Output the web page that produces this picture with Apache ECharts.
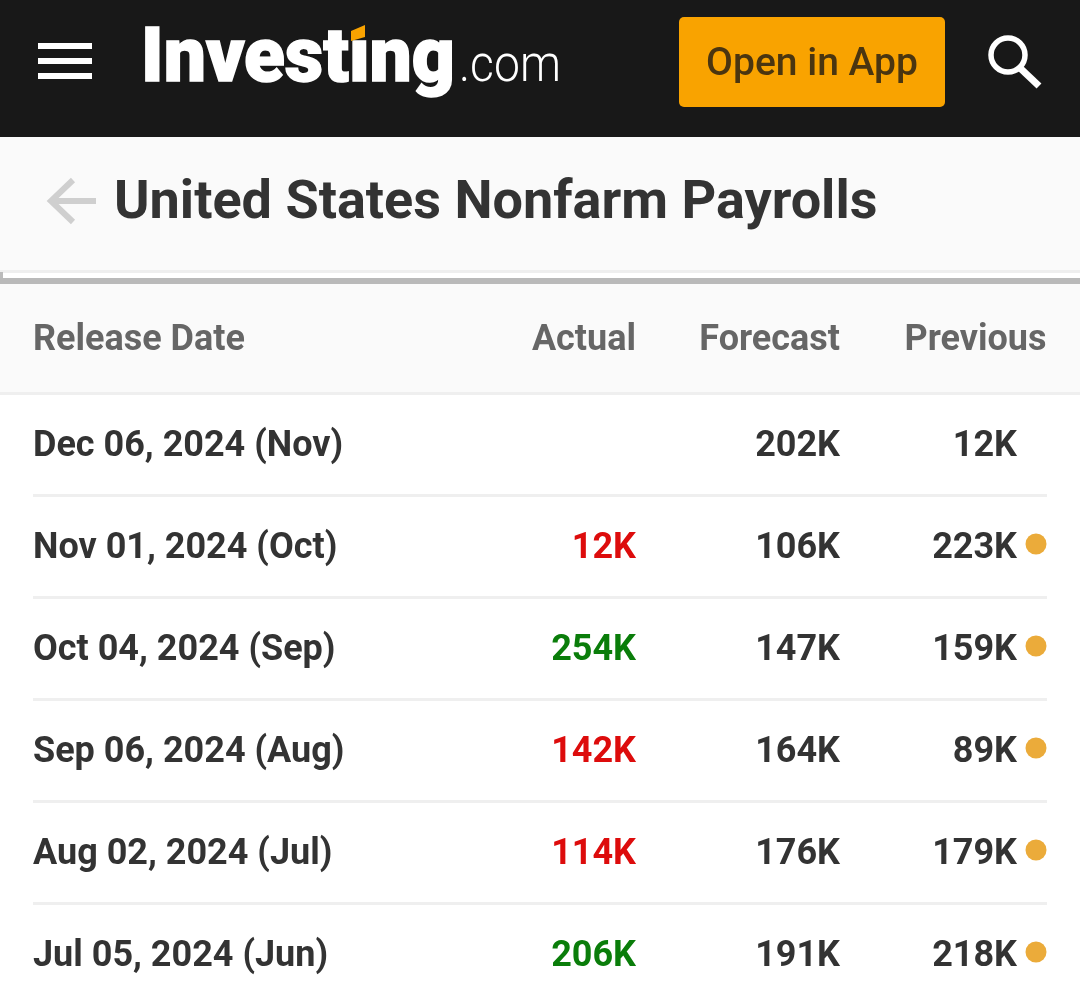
<!DOCTYPE html>
<html>
<head>
<meta charset="utf-8">
<style>
  html, body { margin: 0; padding: 0; background: #fff; height: 1003px; overflow: hidden; }
  #chart { width: 1080px; height: 1020px; }
</style>
<script src="https://cdn.jsdelivr.net/npm/echarts@6/dist/echarts.min.js"></script>
</head>
<body>
<div id="chart"></div>
<script>
const title = 'United States Nonfarm Payrolls';
const columns = ['Release Date', 'Actual', 'Forecast', 'Previous'];
const releases = ['Dec 06, 2024 (Nov)', 'Nov 01, 2024 (Oct)', 'Oct 04, 2024 (Sep)', 'Sep 06, 2024 (Aug)', 'Aug 02, 2024 (Jul)', 'Jul 05, 2024 (Jun)'];
const actual = ['', '12K', '254K', '142K', '114K', '206K'];
const actualBeat = [null, false, true, false, false, true];
const forecast = ['202K', '106K', '147K', '164K', '176K', '191K'];
const previous = ['12K', '223K', '159K', '89K', '179K', '218K'];
const revised = [false, true, true, true, true, true];

const FONT = 'Roboto';
const INK = '#333333';

// x axis runs in page pixels, so a column is just where its text ends
const column = (name, x, values, position, colorOf) => ({
  name,
  type: 'scatter',
  symbolSize: 0,
  silent: true,
  itemStyle: { opacity: 1 },
  data: values
    .map((v, i) => ({ value: [x, releases[i]], text: v, label: { color: colorOf ? colorOf(i) : INK } }))
    .filter((d) => d.text),
  label: {
    show: true,
    fontFamily: FONT,
    fontWeight: 700,
    fontSize: 36,
    position,
    distance: 0,
    offset: [0, 3],
    formatter: (p) => p.data.text,
  },
});

const headerText = (text, x, align) => ({
  type: 'text',
  x,
  y: 341,
  z: 20,
  style: {
    text,
    align,
    verticalAlign: 'middle',
    fontFamily: FONT,
    fontWeight: 700,
    fontSize: 36,
    fill: '#666666',
  },
});

const chart = echarts.init(document.getElementById('chart'), null, { renderer: 'canvas' });
chart.setOption({
  animation: false,
  backgroundColor: '#ffffff',
  grid: { left: 33, width: 1014, top: 393, height: 612 },
  xAxis: { type: 'value', min: 33, max: 1047, show: false },
  yAxis: {
    type: 'category',
    inverse: true,
    data: releases,
    axisLine: { show: false },
    axisTick: { show: false },
    axisLabel: { show: false },
    splitLine: { show: true, lineStyle: { color: '#efefef', width: 3 } },
  },
  series: [
    column('Release Date', 33, releases, 'right'),
    column('Actual', 636, actual, 'left', (i) => (actualBeat[i] ? '#0a7d0a' : '#dd0c0c')),
    column('Forecast', 840, forecast, 'left'),
    column('Previous', 1017, previous, 'left'),
    {
      name: 'Revised',
      type: 'scatter',
      symbolSize: 21,
      symbolOffset: [0, -2],
      silent: true,
      itemStyle: { color: '#ebab3a', opacity: 1 },
      data: releases.filter((_, i) => revised[i]).map((r) => [1036, r]),
    },
  ],
  graphic: [
    // top bar
    { type: 'rect', z: 10, shape: { x: 0, y: 0, width: 1080, height: 137 }, style: { fill: '#181818' } },
    // menu icon
    { type: 'rect', z: 20, shape: { x: 38, y: 43, width: 54, height: 6 }, style: { fill: '#fff' } },
    { type: 'rect', z: 20, shape: { x: 38, y: 58, width: 54, height: 6 }, style: { fill: '#fff' } },
    { type: 'rect', z: 20, shape: { x: 38, y: 73, width: 54, height: 6 }, style: { fill: '#fff' } },
    // logo
    {
      type: 'text', z: 20, x: 141, y: 100, scaleX: 0.985,
      style: { text: 'Investing', verticalAlign: 'bottom', align: 'left', fontFamily: FONT, fontWeight: 900, fontSize: 76, fill: '#fff', stroke: '#fff', lineWidth: 1.5 },
    },
    // hide the i's own dot, the logo has an orange tile there
    { type: 'rect', z: 21, shape: { x: 350, y: 20, width: 18, height: 20 }, style: { fill: '#181818' } },
    { type: 'polygon', z: 22, shape: { points: [[351, 31], [365, 25], [365, 37], [351, 41]] }, style: { fill: '#f9a300' } },
    {
      type: 'text', z: 20, x: 459, y: 68, scaleX: 0.89,
      style: { text: '.com', verticalAlign: 'middle', align: 'left', fontFamily: FONT, fontWeight: 300, fontSize: 52, fill: '#fff' },
    },
    // open in app
    { type: 'rect', z: 20, shape: { x: 679, y: 17, width: 266, height: 90, r: 5 }, style: { fill: '#f9a300' } },
    {
      type: 'text', z: 21, x: 812, y: 65,
      style: { text: 'Open in App', align: 'center', verticalAlign: 'middle', fontFamily: FONT, fontWeight: 500, fontSize: 39, fill: '#4a3510' },
    },
    // search
    { type: 'circle', z: 20, shape: { cx: 1008, cy: 55, r: 17 }, style: { fill: 'none', stroke: '#fff', lineWidth: 5.5 } },
    { type: 'line', z: 20, shape: { x1: 1020, y1: 68, x2: 1039, y2: 86 }, style: { stroke: '#fff', lineWidth: 7 } },
    // title band
    { type: 'rect', z: 10, shape: { x: 0, y: 137, width: 1080, height: 133 }, style: { fill: '#fafafa' } },
    { type: 'rect', z: 10, shape: { x: 0, y: 270, width: 1080, height: 3 }, style: { fill: '#eeeeee' } },
    { type: 'rect', z: 10, shape: { x: 0, y: 273, width: 1080, height: 5 }, style: { fill: '#ffffff' } },
    { type: 'rect', z: 10, shape: { x: 0, y: 272, width: 3, height: 6 }, style: { fill: '#bbbbbb' } },
    { type: 'rect', z: 10, shape: { x: 0, y: 278, width: 1080, height: 6 }, style: { fill: '#b9b9b9' } },
    { type: 'polyline', z: 20, shape: { points: [[73, 180], [51, 201], [73, 222]] }, style: { fill: 'none', stroke: '#cfcfcf', lineWidth: 6 } },
    { type: 'line', z: 20, shape: { x1: 51, y1: 201, x2: 96, y2: 201 }, style: { stroke: '#cfcfcf', lineWidth: 6 } },
    {
      type: 'text', z: 20, x: 114, y: 204,
      style: { text: title, align: 'left', verticalAlign: 'middle', fontFamily: FONT, fontWeight: 700, fontSize: 54, fill: INK },
    },
    // table head
    { type: 'rect', z: 10, shape: { x: 0, y: 284, width: 1080, height: 108 }, style: { fill: '#fafafa' } },
    { type: 'rect', z: 10, shape: { x: 0, y: 392, width: 1080, height: 3 }, style: { fill: '#efefef' } },
    headerText(columns[0], 33, 'left'),
    headerText(columns[1], 636, 'right'),
    headerText(columns[2], 840, 'right'),
    headerText(columns[3], 1046.5, 'right'),
  ],
});
</script>
</body>
</html>
